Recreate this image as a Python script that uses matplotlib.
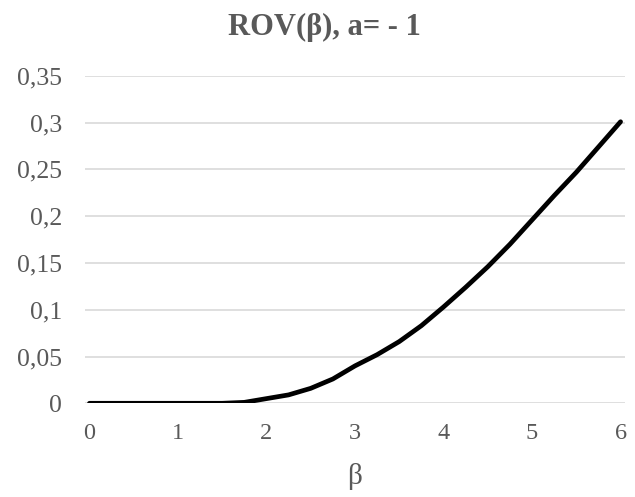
import matplotlib
matplotlib.use("Agg")
import matplotlib.pyplot as plt
from matplotlib.ticker import FuncFormatter

beta = [0, 0.25, 0.5, 0.75, 1.0, 1.25, 1.5, 1.75, 2.0, 2.25, 2.5, 2.75, 3.0,
        3.25, 3.5, 3.75, 4.0, 4.25, 4.5, 4.75, 5.0, 5.25, 5.5, 5.75, 6.0]
rov = [0, 0, 0, 0, 0, 0, 0, 0.001, 0.005, 0.009, 0.016, 0.026, 0.040,
       0.052, 0.066, 0.083, 0.103, 0.124, 0.146, 0.170, 0.196, 0.222, 0.247, 0.274, 0.301]
x_ticks = [0, 1, 2, 3, 4, 5, 6]
y_ticks = [0, 0.05, 0.1, 0.15, 0.2, 0.25, 0.3, 0.35]
title = "ROV(β), a= - 1"
x_label = "β"

plt.rcParams['font.family'] = ['Liberation Serif', 'DejaVu Serif']

fig = plt.figure(figsize=(6.35, 4.97), dpi=100)
ax = fig.add_axes([85/635, 1-403.3/497, 540/635, (403.3-75.9)/497])

ax.plot(beta, rov, color='black', linewidth=3.4, solid_capstyle='round',
        solid_joinstyle='round', zorder=3)

ax.set_xlim(-0.05, 6.05)
ax.set_ylim(0, 0.35)
ax.set_xticks(x_ticks)
ax.set_yticks(y_ticks)

def fmt(v, pos):
    s = ('%.2f' % v).rstrip('0').rstrip('.')
    return s.replace('.', ',')

ax.yaxis.set_major_formatter(FuncFormatter(fmt))
ax.xaxis.set_major_formatter(FuncFormatter(lambda v, p: '%d' % v))

ax.grid(axis='y', color='#d9d9d9', linewidth=1.2)
ax.set_axisbelow(True)
for s in ax.spines.values():
    s.set_visible(False)
ax.tick_params(axis='both', length=0, colors='#595959')
ax.tick_params(axis='y', pad=16.5, labelsize=18.5)
ax.tick_params(axis='x', pad=14, labelsize=17.5)

fig.text(0.5 * (85 + 625) / 635, 1 - 484/497, x_label, fontsize=21, color='#595959',
         ha='center', va='baseline')
fig.text(0.5 * (226 + 422) / 635, 1 - 35/497, title, fontsize=22, fontweight='bold',
         color='#595959', ha='center', va='baseline')

fig.savefig('out.png', dpi=100, facecolor='white')
